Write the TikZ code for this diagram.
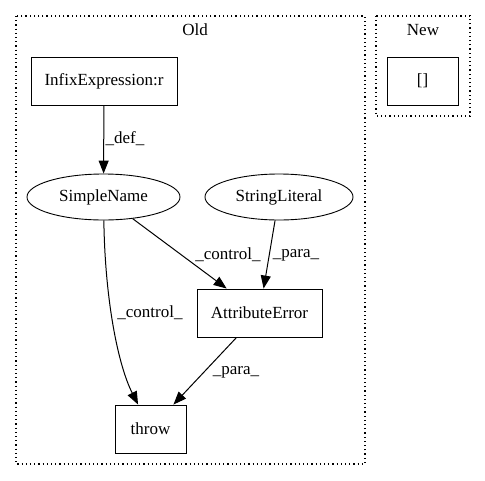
\documentclass[tikz,border=0pt]{standalone}
\usepackage{fontspec}
\setmainfont{Liberation Serif}
\usetikzlibrary{shapes.geometric, arrows.meta}

\begin{document}
\begin{tikzpicture}[
    x=1pt, y=-1pt,
    every node/.style={font=\fontsize{17}{20}\selectfont},
    cluster/.style={draw, line width=1.2pt, dash pattern=on 1.2pt off 3pt},
    box/.style={draw, line width=0.9pt, minimum height=48pt, inner sep=0pt},
    ell/.style={draw, ellipse, line width=0.9pt, minimum height=46pt, inner sep=0pt},
    lbl/.style={inner sep=0pt},
    arr/.style={-{Triangle[length=13pt, width=10pt]}, line width=1pt},
]
\useasboundingbox (0,0) rectangle (485,480);

% --- Clusters ---
\draw[cluster] (16,16) rectangle (365,464);
\draw[cluster] (376,16) rectangle (470,116);
\node (old) at (195,30) {Old};
\node (new) at (423,30) {New};

% --- Nodes ---
\node[box, minimum width=146pt] (infix) at (104,81) {InfixExpression:r};
\node[box, minimum width=71pt] (empty) at (422.5,81) {[]};
\node[ell, minimum width=153pt] (sname) at (103.5,197) {SimpleName};
\node[ell, minimum width=148pt] (slit) at (279,197) {StringLiteral};
\node[box, minimum width=125pt] (attr) at (259.5,313) {AttributeError};
\node[box, minimum width=71pt] (throw) at (150.5,429) {throw};

% --- Edges ---
\draw[arr] (infix) -- (sname);
\draw[arr] (sname) -- (attr);
\draw[arr] (slit) -- (attr);
\draw[arr] (attr) -- (throw);
\draw[arr] (sname) .. controls (105,300) and (118,365) .. (throw);

% --- Edge labels ---
\node[lbl] (ldef) at (125,139) {\_def\_};
\node[lbl] (lctrla) at (228,255) {\_control\_};
\node[lbl] (lparaa) at (296,255) {\_para\_};
\node[lbl] (lctrlb) at (150,313) {\_control\_};
\node[lbl] (lparab) at (236,372) {\_para\_};

\end{tikzpicture}
\end{document}
